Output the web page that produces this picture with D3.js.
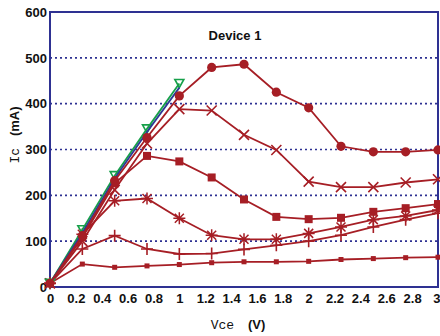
<!DOCTYPE html>
<html><head><meta charset="utf-8">
<script src="https://cdn.jsdelivr.net/npm/d3@7"></script>
<style>body{margin:0;background:#fff}svg{display:block}</style>
</head><body>
<script>
const vce = [0,0.25,0.5,0.75,1,1.25,1.5,1.75,2,2.25,2.5,2.75,3];
const green  = [8,125,243,345,444];
const blue   = [8,118,237,338,435];
const circ   = [8,112,232,326,417,479,486,425,391,307,295,295,299];
const cross  = [8,100,212,313,388,385,332,299,230,218,218,228,235];
const square = [8,108,226,286,274,239,191,153,148,151,164,172,181];
const aster  = [8,115,188,193,150,113,104,104,117,131,147,155,168];
const plus   = [8,83,112,83,72,73,82,91,100,113,131,147,161];
const small  = [8,50,43,46,49,53,55,55,56,60,62,64,65];
const xTicks = [0,0.2,0.4,0.6,0.8,1,1.2,1.4,1.6,1.8,2,2.2,2.4,2.6,2.8,3];
const yTicks = [0,100,200,300,400,500,600];

const W=440,H=336, m={l:50,t:12,r:2,b:49};
const svg=d3.select("body").append("svg").attr("width",W).attr("height",H);
const x=d3.scaleLinear().domain([0,3]).range([m.l,W-m.r]);
const y=d3.scaleLinear().domain([0,600]).range([H-m.b,m.t]);
const RED="#a61e25", GREEN="#17a04a", BLUE="#2d3a96", FRAME="#2e3192";

// grid
svg.append("g").selectAll("line").data([100,200,300,400,500]).join("line")
 .attr("x1",x(0)).attr("x2",x(3)).attr("y1",d=>y(d)).attr("y2",d=>y(d))
 .attr("stroke",FRAME).attr("stroke-width",1.6).attr("stroke-dasharray","2,3");

// axes (labels only)
const fnt="'Liberation Sans',Arial,sans-serif";
const gx=svg.append("g").attr("transform",`translate(0,${y(0)})`)
 .call(d3.axisBottom(x).tickValues(xTicks).tickSize(0).tickPadding(7).tickFormat(d=>d3.format("")(+d.toFixed(1))));
const gy=svg.append("g").attr("transform",`translate(${x(0)},0)`)
 .call(d3.axisLeft(y).tickValues(yTicks).tickSize(0).tickPadding(3));
[gx,gy].forEach(g=>{g.select(".domain").remove();
 g.selectAll("text").attr("font-family",fnt).attr("font-weight","bold").attr("font-size",13).attr("fill","#111");});
gx.selectAll(".tick").filter(d=>d===3).select("text").attr("text-anchor","end").attr("dx",2);

// frame
svg.append("rect").attr("x",x(0)).attr("y",y(600)).attr("width",x(3)-x(0)).attr("height",y(0)-y(600))
 .attr("fill","none").attr("stroke",FRAME).attr("stroke-width",2);

const line=d3.line().x((d,i)=>x(vce[i])).y(d=>y(d));
function series(vals,color,marker){
  svg.append("path").datum(vals).attr("d",line).attr("fill","none").attr("stroke",color).attr("stroke-width",1.8);
  const g=svg.append("g");
  vals.forEach((v,i)=>{
    const cx=x(vce[i]), cy=y(v);
    const t=g.append("g").attr("transform",`translate(${cx},${cy})`);
    marker(t,color);
  });
}
const mk={
  circle:(t,c)=>t.append("circle").attr("r",4.6).attr("fill",c),
  square:(t,c)=>t.append("rect").attr("x",-4).attr("y",-4).attr("width",8).attr("height",8).attr("fill",c),
  small:(t,c)=>t.append("rect").attr("x",-2.5).attr("y",-2.5).attr("width",5).attr("height",5).attr("fill",c),
  cross:(t,c)=>t.append("path").attr("d","M-5,-5L5,5M-5,5L5,-5").attr("stroke",c).attr("stroke-width",1.6),
  plus:(t,c)=>t.append("path").attr("d","M-6,0L6,0M0,-6L0,6").attr("stroke",c).attr("stroke-width",1.6),
  aster:(t,c)=>t.append("path").attr("d","M-6,0L6,0M0,-6L0,6M-4.5,-4.5L4.5,4.5M-4.5,4.5L4.5,-4.5").attr("stroke",c).attr("stroke-width",1.5),
  tri:(t,c)=>t.append("path").attr("d","M-4.5,-4L4.5,-4L0,4Z").attr("fill","none").attr("stroke",c).attr("stroke-width",1.6),
  none:()=>{}
};
series(small,RED,mk.small);
series(plus,RED,mk.plus);
series(aster,RED,mk.aster);
series(square,RED,mk.square);
series(cross,RED,mk.cross);
series(green,GREEN,mk.tri);
series(blue,BLUE,mk.none);
series(circ,RED,mk.circle);

// title
svg.append("text").attr("x",235).attr("y",40).attr("text-anchor","middle")
 .attr("font-family",fnt).attr("font-weight","bold").attr("font-size",13).attr("fill","#111").text("Device 1");

// x label
const xl=svg.append("text").attr("x",238).attr("y",329).attr("text-anchor","middle").attr("fill","#111");
xl.append("tspan").attr("font-family","'Liberation Mono','DejaVu Sans Mono',monospace").attr("font-size",13).text("Vce ");
xl.append("tspan").attr("font-family",fnt).attr("font-weight","bold").attr("font-size",13).attr("dx",6).text("(V)");

// y label
const yl=svg.append("text").attr("transform","translate(19,135) rotate(-90)").attr("text-anchor","middle").attr("fill","#111");
yl.append("tspan").attr("font-family","'Liberation Mono','DejaVu Sans Mono',monospace").attr("font-size",13).text("Ic ");
yl.append("tspan").attr("font-family",fnt).attr("font-weight","bold").attr("font-size",13).attr("dx",4).text("(mA)");
</script>
</body></html>
